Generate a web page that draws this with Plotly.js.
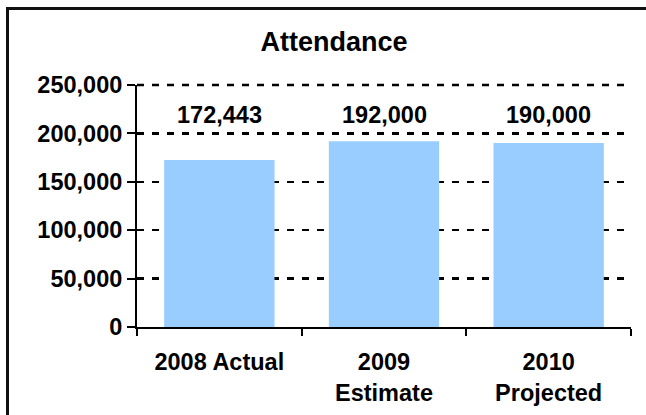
<!DOCTYPE html>
<html>
<head>
<meta charset="utf-8">
<script src="https://cdn.plot.ly/plotly-3.0.1.min.js"></script>
<style>
  html, body { margin: 0; padding: 0; background: #fff; }
  #wrap { position: relative; width: 646px; height: 415px; overflow: hidden; }
  #chart { width: 646px; height: 415px; }
  .edge { position: absolute; background: #111; }
</style>
</head>
<body>
<div id="wrap">
  <div id="chart"></div>
  <div class="edge" style="left:6px; top:7px; width:640px; height:3px;"></div>
  <div class="edge" style="left:6px; top:7px; width:3px; height:408px;"></div>
</div>
<script>
const categories = ["2008 Actual", "2009<br>Estimate", "2010<br>Projected"];
const attendance = [172443, 192000, 190000];
const labelTexts = ["172,443", "192,000", "190,000"];
const yTickVals = [0, 50000, 100000, 150000, 200000, 250000];
const yTickText = ["0", "50,000", "100,000", "150,000", "200,000", "250,000"];
const labelLevel = 219000;

const boldFont = { family: "Liberation Sans, Arial, sans-serif", size: 23.5, color: "#000", weight: 700 };

const trace = {
  type: "bar",
  x: categories,
  y: attendance,
  marker: { color: "#99CCFF", line: { width: 0 } },
  width: 0.67,
  hoverinfo: "skip"
};

const annotations = categories.map((c, i) => ({
  x: c, y: labelLevel, xref: "x", yref: "y",
  text: labelTexts[i], showarrow: false,
  font: boldFont, yanchor: "middle"
}));

const yMax = yTickVals[yTickVals.length - 1];

const layout = {
  width: 646, height: 415,
  margin: { l: 137, r: 15, t: 85, b: 88, pad: 0 },
  paper_bgcolor: "#fff", plot_bgcolor: "#fff",
  showlegend: false,
  title: {
    text: "Attendance",
    font: { family: "Liberation Sans, Arial, sans-serif", size: 27, color: "#000", weight: 700 },
    x: 0.517, xref: "container", xanchor: "center",
    y: 1 - 42/415, yref: "container", yanchor: "middle"
  },
  xaxis: {
    type: "category",
    showline: true, linecolor: "#000", linewidth: 2,
    ticks: "outside", tickson: "boundaries", ticklen: 7, tickwidth: 2, tickcolor: "#000",
    ticklabelstandoff: 13,
    showgrid: false, zeroline: false,
    tickfont: boldFont,
    fixedrange: true
  },
  yaxis: {
    range: [0, yMax],
    tickvals: yTickVals, ticktext: yTickText,
    showline: true, linecolor: "#000", linewidth: 2,
    ticks: "outside", ticklen: 8, tickwidth: 2, tickcolor: "#000",
    showgrid: true, gridcolor: "#000", gridwidth: 2.5, griddash: "7px,8px",
    zeroline: false,
    tickfont: boldFont,
    fixedrange: true
  },
  shapes: [{
    // top gridline (at yMax = top of the y range), drawn as a shape because Plotly drops the end gridline
    type: "line", layer: "below",
    xref: "paper", x0: 0, x1: 1,
    yref: "paper", y0: 1, y1: 1,
    line: { color: "#000", width: 2.5, dash: "7px,8px" }
  }],
  annotations: annotations
};

Plotly.newPlot("chart", [trace], layout, { displayModeBar: false, staticPlot: true });
</script>
</body>
</html>
